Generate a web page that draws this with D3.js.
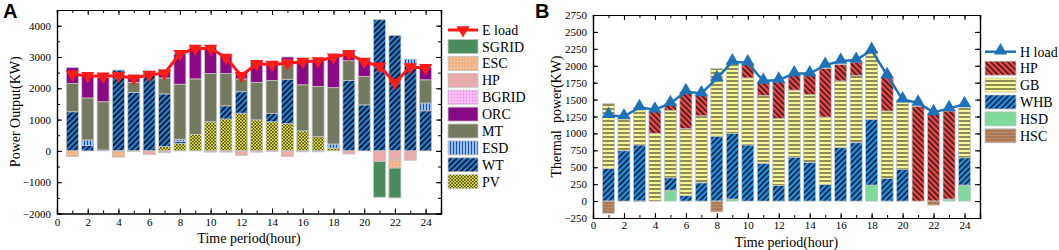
<!DOCTYPE html>
<html>
<head>
<meta charset="utf-8">
<script src="https://cdn.jsdelivr.net/npm/d3@7"></script>
<style>
  body { margin: 0; background: #fff; }
  svg text { font-family: "Liberation Serif", "Times New Roman", serif; }
</style>
</head>
<body>
<svg id="chart" width="1059" height="250"></svg>
<script>
// ---- data ----
const hours = [1,2,3,4,5,6,7,8,9,10,11,12,13,14,15,16,17,18,19,20,21,22,23,24];
const xTickLabels = [0,2,4,6,8,10,12,14,16,18,20,22,24];

// panel A: electric power balance
const PV    = [0,0,0,0,0,0,140,240,530,930,1020,1205,990,930,870,640,460,90,0,0,0,0,0,0];
const WT    = [1250,170,30,2580,1870,2420,1680,60,0,0,420,685,0,270,1420,0,0,0,2250,1470,4190,3690,2750,1280];
const ESD   = [0,180,0,0,0,0,0,70,0,0,0,0,0,0,0,0,0,130,0,0,0,0,180,250];
const MT    = [900,1340,1540,0,320,140,510,1760,1770,1540,1030,410,1200,1050,610,1470,1600,1800,630,910,0,0,0,740];
const ORC   = [510,710,780,0,140,0,260,970,1020,850,580,220,670,610,100,770,840,1000,320,530,0,0,0,390];
const BGRID = [0,0,0,0,0,0,0,0,0,0,0,0,0,0,0,0,0,0,0,0,0,0,0,0];
const HPe   = [0,0,0,-20,-20,-120,-60,0,0,-40,-40,-150,-40,-20,-180,-30,-30,0,-100,0,-340,-290,-300,0];
const ESC   = [-180,0,0,-180,0,0,0,0,0,0,0,0,0,0,0,0,0,0,0,0,0,-260,0,0];
const SGRID = [0,0,0,0,0,0,0,0,0,0,0,0,0,0,0,0,0,0,0,0,-1140,-950,0,0];
const Eload = [2450,2400,2380,2400,2320,2430,2480,3100,3270,3270,2980,2400,2780,2760,2800,2850,2870,2990,3100,2850,2700,2180,2680,2650];
const yTicksA = [-2000,-1000,0,1000,2000,3000,4000];
const legendA = ["SGRID","ESC","HP","BGRID","ORC","MT","ESD","WT","PV"];

// panel B: thermal power balance
const HSD   = [0,0,0,0,160,0,0,0,30,0,0,0,0,0,0,0,0,237,0,0,0,0,30,237];
const WHB   = [483,745,830,0,185,80,270,960,970,830,560,230,650,572,246,790,863,971,335,473,0,0,0,404];
const GB    = [957,505,555,1000,995,990,990,1000,1040,990,1000,990,990,1000,995,985,992,1000,996,1020,0,0,0,740];
const HPh   = [0,0,0,330,100,540,320,0,0,210,200,540,220,285,720,245,195,0,495,0,1400,1290,1300,0];
const HSC   = [-180,0,-10,0,0,0,0,-160,0,0,0,0,0,0,0,0,0,0,0,0,0,-60,0,0];
const Hload = [1270,1250,1385,1350,1445,1620,1590,1815,2060,2045,1775,1790,1885,1885,2010,2070,2085,2230,1860,1500,1450,1310,1370,1430];
const yTicksB = [-250,0,250,500,750,1000,1250,1500,1750,2000,2250,2500,2750];
const legendB = ["HP","GB","WHB","HSD","HSC"];

const svg = d3.select("#chart");
const defs = svg.append("defs");

// ---- fill patterns ----
function stripes(id, base, stripe, angle, period, sw) {
  const p = defs.append("pattern").attr("id", id)
    .attr("patternUnits", "userSpaceOnUse")
    .attr("width", period).attr("height", period)
    .attr("patternTransform", `rotate(${angle})`);
  p.append("rect").attr("width", period).attr("height", period).attr("fill", base);
  p.append("rect").attr("width", sw).attr("height", period).attr("fill", stripe);
}
function checker(id, base, dot, size) {
  const p = defs.append("pattern").attr("id", id)
    .attr("patternUnits", "userSpaceOnUse")
    .attr("width", size * 2).attr("height", size * 2);
  p.append("rect").attr("width", size * 2).attr("height", size * 2).attr("fill", base);
  p.append("rect").attr("width", size).attr("height", size).attr("fill", dot);
  p.append("rect").attr("x", size).attr("y", size).attr("width", size).attr("height", size).attr("fill", dot);
}
function dots(id, base, dot, step, r) {
  const p = defs.append("pattern").attr("id", id)
    .attr("patternUnits", "userSpaceOnUse")
    .attr("width", step).attr("height", step);
  p.append("rect").attr("width", step).attr("height", step).attr("fill", base);
  p.append("circle").attr("cx", step / 2).attr("cy", step / 2).attr("r", r).attr("fill", dot);
}

stripes("pWT", "#0b2248", "#2f8ad8", 45, 4, 1.8);
stripes("pESD", "#8fc0ef", "#2a4f9a", 0, 3, 1);
checker("pPV", "#eeee3a", "#4b4b22", 1.6);
dots("pESC", "#f2b384", "#f8cda8", 3, 0.7);
dots("pBGRID", "#ffbdf8", "#e77de0", 3, 0.7);
stripes("pHPh", "#f04545", "#1a1a1a", -45, 4, 1.4);
stripes("pGB", "#f6f696", "#8d8d55", 90, 4, 2);
stripes("pWHB", "#1f8ee0", "#0a0d20", 45, 4, 1.4);
stripes("pHSC", "#a87a58", "#b98c6a", 90, 3, 1);

// ---- one panel ----
function drawPanel(o) {
  const x = d3.scaleLinear().domain([0, 25]).range([o.x0, o.x1]);
  const y = d3.scaleLinear().domain(o.yDomain).range([o.yBot, o.yTop]);
  const g = svg.append("g");
  const bw = (x(1) - x(0)) * 0.78;

  const table = hours.map((h, i) => {
    const row = { hour: h };
    o.series.forEach(s => row[s.name] = s.values[i]);
    return row;
  });
  const stacked = d3.stack().keys(o.series.map(s => s.name))
    .offset(d3.stackOffsetDiverging)(table);

  stacked.forEach((layer, k) => {
    const s = o.series[k];
    g.append("g").selectAll("rect")
      .data(layer.filter(d => d[1] !== d[0]))
      .join("rect")
      .attr("x", d => x(d.data.hour) - bw / 2)
      .attr("width", bw)
      .attr("y", d => y(Math.max(d[0], d[1])))
      .attr("height", d => Math.abs(y(d[0]) - y(d[1])))
      .attr("fill", s.fill)
      .attr("stroke", "#c4c4c4")
      .attr("stroke-width", 0.8);
  });

  // load line
  g.append("path")
    .datum(o.load)
    .attr("fill", "none")
    .attr("stroke", o.loadColor)
    .attr("stroke-width", o.lineWidth)
    .attr("d", d3.line().x((d, i) => x(hours[i])).y(d => y(d)));
  g.append("g").selectAll("path")
    .data(o.load)
    .join("path")
    .attr("transform", (d, i) => `translate(${x(hours[i])},${y(d) + o.markerShift}) rotate(${o.markerRot})`)
    .attr("d", d3.symbol(d3.symbolTriangle, o.markerSize))
    .attr("fill", o.loadColor);

  // axes, ticks inward on all four sides
  const minorX = d3.range(0, 26);
  const fontSize = "11px";
  const fmt = d3.format("d");
  g.append("g").attr("transform", `translate(0,${o.yBot})`)
    .call(d3.axisBottom(x).tickValues(minorX).tickSize(-3).tickFormat(""));
  g.append("g").attr("transform", `translate(0,${o.yBot})`)
    .call(d3.axisBottom(x).tickValues(xTickLabels).tickSize(-5).tickPadding(o.xPad).tickFormat(fmt))
    .call(a => a.selectAll("text").style("font-size", fontSize));
  g.append("g").attr("transform", `translate(0,${o.yTop})`)
    .call(d3.axisTop(x).tickValues(minorX).tickSize(-3).tickFormat(""));
  g.append("g").attr("transform", `translate(0,${o.yTop})`)
    .call(d3.axisTop(x).tickValues(xTickLabels).tickSize(-5).tickFormat(""));
  g.append("g").attr("transform", `translate(${o.x0},0)`)
    .call(d3.axisLeft(y).tickValues(o.yMinor).tickSize(-3).tickFormat(""));
  g.append("g").attr("transform", `translate(${o.x0},0)`)
    .call(d3.axisLeft(y).tickValues(o.yTicks).tickSize(-5).tickPadding(6).tickFormat(fmt))
    .call(a => a.selectAll("text").style("font-size", fontSize));
  g.append("g").attr("transform", `translate(${o.x1},0)`)
    .call(d3.axisRight(y).tickValues(o.yMinor).tickSize(-3).tickFormat(""));
  g.append("g").attr("transform", `translate(${o.x1},0)`)
    .call(d3.axisRight(y).tickValues(o.yTicks).tickSize(-5).tickFormat(""));
  g.selectAll(".domain").attr("stroke", "#000").attr("stroke-width", 1.2);
  g.selectAll(".tick line").attr("stroke", "#000");
  g.selectAll(".tick text").attr("fill", "#000")
    .style("font-family", "'Liberation Serif', 'Times New Roman', serif");

  // titles
  g.append("text")
    .attr("x", (o.x0 + o.x1) / 2).attr("y", o.xTitleY)
    .attr("text-anchor", "middle").style("font-size", "14px")
    .text("Time period(hour)");
  g.append("text")
    .attr("transform", `translate(${o.yTitleX},${(o.yTop + o.yBot) / 2}) rotate(-90)`)
    .attr("text-anchor", "middle").style("font-size", "14px")
    .style("white-space", "pre").attr("xml:space", "preserve")
    .text(o.yTitle);
  g.append("text")
    .attr("x", o.letterX).attr("y", 18)
    .style("font-family", "'Liberation Sans', Arial, sans-serif")
    .style("font-weight", "bold").style("font-size", "20px")
    .text(o.letter);

  // legend
  const lg = g.append("g");
  lg.append("line")
    .attr("x1", o.legX).attr("x2", o.legX + o.legW)
    .attr("y1", o.legY).attr("y2", o.legY)
    .attr("stroke", o.loadColor).attr("stroke-width", o.lineWidth);
  lg.append("path")
    .attr("transform", `translate(${o.legX + o.legW / 2},${o.legY + o.markerShift}) rotate(${o.markerRot})`)
    .attr("d", d3.symbol(d3.symbolTriangle, o.markerSize))
    .attr("fill", o.loadColor);
  lg.append("text")
    .attr("x", o.legX + o.legW + 4).attr("y", o.legY + 5)
    .style("font-size", "14px").text(o.loadName);
  o.legend.forEach((name, i) => {
    const s = o.series.find(d => d.name === name);
    const top = o.legY + 9.5 + i * 16.9;
    lg.append("rect")
      .attr("x", o.legX).attr("y", top)
      .attr("width", o.legW).attr("height", 14)
      .attr("fill", s.fill).attr("stroke", "#c4c4c4").attr("stroke-width", 0.8);
    lg.append("text")
      .attr("x", o.legX + o.legW + 4).attr("y", top + 12)
      .style("font-size", "14px").text(s.name);
  });
}

drawPanel({
  x0: 57, x1: 441, yTop: 10, yBot: 213.5,
  yDomain: [-2000, 4500], yTicks: yTicksA,
  yMinor: d3.range(-2000, 4501, 500),
  series: [
    { name: "PV", values: PV, fill: "url(#pPV)" },
    { name: "WT", values: WT, fill: "url(#pWT)" },
    { name: "ESD", values: ESD, fill: "url(#pESD)" },
    { name: "MT", values: MT, fill: "#747a5f" },
    { name: "ORC", values: ORC, fill: "#8a0a86" },
    { name: "BGRID", values: BGRID, fill: "url(#pBGRID)" },
    { name: "HP", values: HPe, fill: "#e8acad" },
    { name: "ESC", values: ESC, fill: "url(#pESC)" },
    { name: "SGRID", values: SGRID, fill: "#4a8c5e" }
  ],
  legend: legendA,
  load: Eload, loadName: "E load", loadColor: "#ff1a1a", lineWidth: 3,
  markerRot: 180, markerShift: 0, markerSize: 75,
  xPad: 5, xTitleY: 243,
  yTitle: "Power Output(KW)", yTitleX: 20,
  letter: "A", letterX: 3,
  legX: 448, legY: 30, legW: 30
});

drawPanel({
  x0: 593, x1: 980, yTop: 15, yBot: 218,
  yDomain: [-250, 2750], yTicks: yTicksB,
  yMinor: yTicksB,
  series: [
    { name: "HSD", values: HSD, fill: "#7fd99c" },
    { name: "WHB", values: WHB, fill: "url(#pWHB)" },
    { name: "GB", values: GB, fill: "url(#pGB)" },
    { name: "HP", values: HPh, fill: "url(#pHPh)" },
    { name: "HSC", values: HSC, fill: "url(#pHSC)" }
  ],
  legend: legendB,
  load: Hload, loadName: "H load", loadColor: "#1f72b8", lineWidth: 2.5,
  markerRot: 0, markerShift: -1, markerSize: 75,
  xPad: 3, xTitleY: 247,
  yTitle: "Thermal  power(KW)", yTitleX: 561,
  letter: "B", letterX: 535,
  legX: 985, legY: 51.7, legW: 31
});
</script>
</body>
</html>
